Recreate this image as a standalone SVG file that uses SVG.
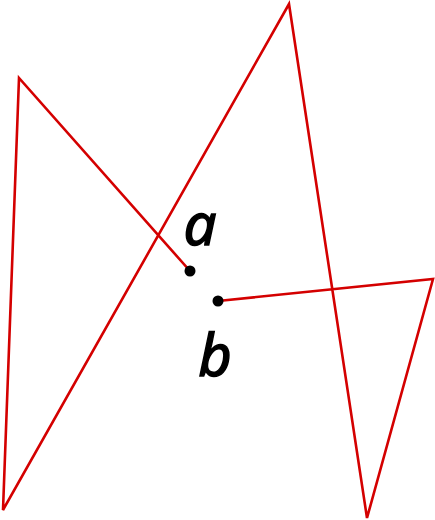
<svg xmlns="http://www.w3.org/2000/svg" width="435" height="520" viewBox="0 0 435 520">
<style>
.line{fill:none;stroke:#d40000;stroke-width:2.6;stroke-linejoin:miter}
.lbl{font-family:"Noto Sans","DejaVu Sans",sans-serif;font-style:italic;font-size:58px;fill:#000;stroke:#000;stroke-width:1.4;text-anchor:middle}
</style>
<rect width="435" height="520" fill="#fff"/>
<g id="connectors">
<polyline class="line" points="190,271 19,78 3,510 289,4 367,518 433,279 218,301"/>
</g>
<g id="a"><circle cx="190" cy="271" r="5.5"/><text class="lbl" x="200" y="245">a</text></g>
<g id="b"><circle cx="218" cy="301" r="5.5"/><text class="lbl" x="215" y="376">b</text></g>
</svg>
